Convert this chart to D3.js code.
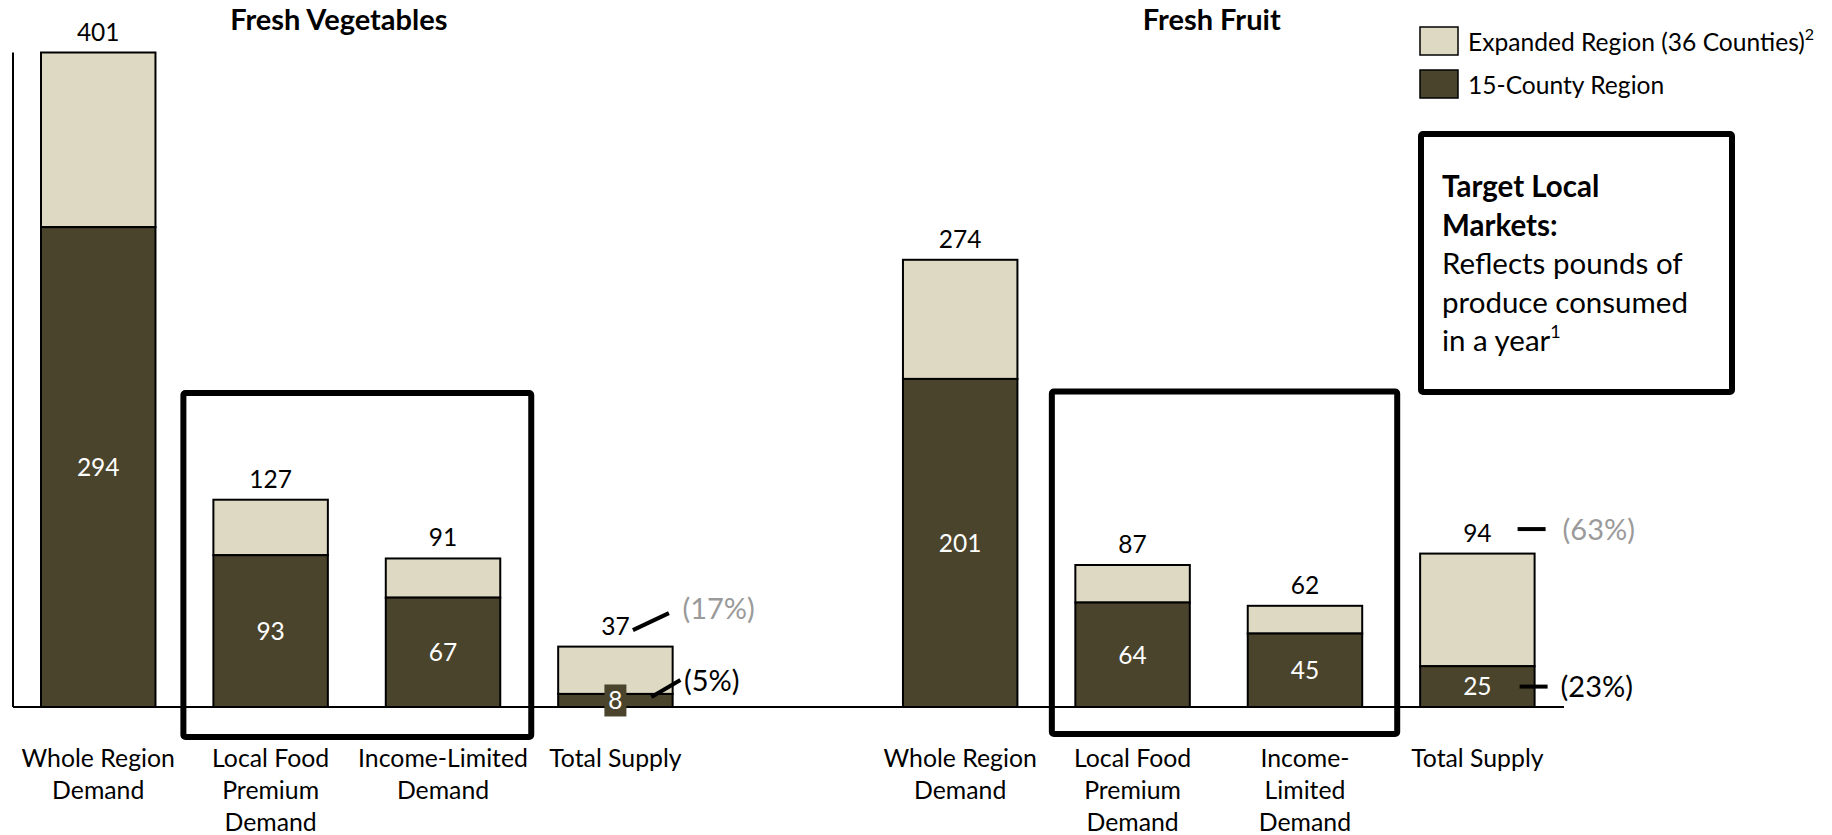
<!DOCTYPE html>
<html>
<head>
<meta charset="utf-8">
<script src="https://cdn.jsdelivr.net/npm/d3@7"></script>
<style>
  html, body { margin: 0; padding: 0; background: #fff; }
  svg { display: block; font-family: Lato, "Open Sans", sans-serif; }
</style>
</head>
<body>
<svg id="chart" width="1832" height="835"></svg>
<script>
// ---------------- data ----------------
const panels = ["Fresh Vegetables", "Fresh Fruit"];
const categories = ["Whole Region Demand", "Local Food Premium Demand", "Income-Limited Demand", "Total Supply"];
const vegLabels = [["Whole Region", "Demand"], ["Local Food", "Premium", "Demand"], ["Income-Limited", "Demand"], ["Total Supply"]];
const fruitLabels = [["Whole Region", "Demand"], ["Local Food", "Premium", "Demand"], ["Income-", "Limited", "Demand"], ["Total Supply"]];
const vegExpanded = [401, 127, 91, 37];   // Expanded Region (36 Counties) totals
const vegLocal = [294, 93, 67, 8];        // 15-County Region
const fruitExpanded = [274, 87, 62, 94];
const fruitLocal = [201, 64, 45, 25];
const vegSupplyPct = ["(17%)", "(5%)"];   // expanded share, 15-county share
const fruitSupplyPct = ["(63%)", "(23%)"];
const legendLabels = ["Expanded Region (36 Counties)", "15-County Region"];
const noteTitle = ["Target Local", "Markets:"];
const noteBody = ["Reflects pounds of", "produce consumed", "in a year"];

// ---------------- styles ----------------
const LIGHT = "#DED9C3";
const DARK = "#4A442C";
const GREY = "#9A9A9A";
const NUM_FS = 24.5, CAT_FS = 24.8, PCT_FS = 29, LEG_FS = 24.6, NOTE_FS = 29.5, TITLE_FS = 29;

const svg = d3.select("#chart");

// rows
const rows = [];
vegExpanded.forEach((v, i) => rows.push({ key: "veg-" + i, panel: 0, i, total: v, local: vegLocal[i], lines: vegLabels[i] }));
fruitExpanded.forEach((v, i) => rows.push({ key: "fruit-" + i, panel: 1, i, total: v, local: fruitLocal[i], lines: fruitLabels[i] }));

const slots = ["veg-0", "veg-1", "veg-2", "veg-3", "gap", "fruit-0", "fruit-1", "fruit-2", "fruit-3"];
const x = d3.scaleBand().domain(slots).range([41, 1534.6]).paddingInner(0.336).paddingOuter(0);
const bw = x.bandwidth();
const y = d3.scaleLinear().domain([0, d3.max(rows, d => d.total)]).range([707, 52.5]);

// axes lines
svg.append("line").attr("x1", 13).attr("x2", 13).attr("y1", y(d3.max(rows, d => d.total))).attr("y2", y(0))
  .attr("stroke", "#000").attr("stroke-width", 2);

// bars: expanded (light) then local (dark)
const g = svg.append("g");
g.selectAll("rect.exp").data(rows).join("rect").attr("class", "exp")
  .attr("x", d => x(d.key)).attr("width", bw)
  .attr("y", d => y(d.total)).attr("height", d => y(d.local) - y(d.total))
  .attr("fill", LIGHT).attr("stroke", "#000").attr("stroke-width", 2);
g.selectAll("rect.loc").data(rows).join("rect").attr("class", "loc")
  .attr("x", d => x(d.key)).attr("width", bw)
  .attr("y", d => y(d.local)).attr("height", d => y(0) - y(d.local))
  .attr("fill", DARK).attr("stroke", "#000").attr("stroke-width", 2);

// baseline
svg.append("line").attr("x1", 13).attr("x2", 1564).attr("y1", y(0)).attr("y2", y(0))
  .attr("stroke", "#000").attr("stroke-width", 2);

// total labels
svg.selectAll("text.tot").data(rows).join("text").attr("class", "tot")
  .attr("x", d => x(d.key) + bw / 2).attr("y", d => y(d.total) - 12)
  .attr("text-anchor", "middle").attr("font-size", NUM_FS).attr("fill", "#000")
  .text(d => d.total);

// local labels
rows.forEach(d => {
  const cx = x(d.key) + bw / 2;
  const cy = (y(d.local) + y(0)) / 2;
  if (y(0) - y(d.local) < 26) {
    svg.append("rect").attr("x", cx - 11).attr("y", cy - 16).attr("width", 22).attr("height", 32).attr("fill", DARK);
  }
  svg.append("text").attr("x", cx).attr("y", cy).attr("dy", "0.36em")
    .attr("text-anchor", "middle").attr("font-size", NUM_FS).attr("fill", "#fff").text(d.local);
});

// category labels
rows.forEach(d => {
  const t = svg.append("text").attr("text-anchor", "middle").attr("font-size", CAT_FS).attr("fill", "#000");
  d.lines.forEach((ln, k) => {
    t.append("tspan").attr("x", x(d.key) + bw / 2).attr("y", 767 + k * 32).text(ln);
  });
});

// panel titles
svg.append("text").attr("x", (x("veg-1") + x("veg-2") + bw) / 2 - 18).attr("y", 30)
  .attr("text-anchor", "middle").attr("font-size", TITLE_FS).attr("font-weight", "bold").text(panels[0]);
svg.append("text").attr("x", (x("fruit-1") + x("fruit-2") + bw) / 2 - 7).attr("y", 30)
  .attr("text-anchor", "middle").attr("font-size", TITLE_FS).attr("font-weight", "bold").text(panels[1]);

// target boxes
svg.append("rect").attr("x", x("veg-1") - 30).attr("y", 393).attr("width", x("veg-2") + bw + 31 - (x("veg-1") - 30)).attr("height", 344)
  .attr("fill", "none").attr("stroke", "#000").attr("stroke-width", 6).attr("rx", 2);
svg.append("rect").attr("x", x("fruit-1") - 23.5).attr("y", 391.5).attr("width", x("fruit-2") + bw + 35 - (x("fruit-1") - 23.5)).attr("height", 342.5)
  .attr("fill", "none").attr("stroke", "#000").attr("stroke-width", 6).attr("rx", 2);

// supply share annotations
(function () {
  const d = rows.find(r => r.key === "veg-3");
  const cx = x(d.key) + bw / 2, ty = y(d.total), ly = y(d.local);
  svg.append("line").attr("x1", cx + 17.5).attr("y1", ty - 16.5).attr("x2", cx + 53.5).attr("y2", ty - 33.5)
    .attr("stroke", "#000").attr("stroke-width", 4);
  svg.append("text").attr("x", cx + 67).attr("y", ty - 28).attr("font-size", PCT_FS).attr("fill", GREY).text(vegSupplyPct[0]);
  svg.append("line").attr("x1", cx + 36).attr("y1", ly + 3).attr("x2", cx + 65).attr("y2", ly - 14)
    .attr("stroke", "#000").attr("stroke-width", 4);
  svg.append("text").attr("x", cx + 68.5).attr("y", ly - 3).attr("font-size", PCT_FS).attr("fill", "#000").text(vegSupplyPct[1]);
})();
(function () {
  const d = rows.find(r => r.key === "fruit-3");
  const rx = x(d.key) + bw, ty = y(d.total), my = (y(d.local) + y(0)) / 2;
  svg.append("line").attr("x1", rx - 17).attr("y1", ty - 24.5).attr("x2", rx + 11).attr("y2", ty - 24.5)
    .attr("stroke", "#000").attr("stroke-width", 4);
  svg.append("text").attr("x", rx + 28).attr("y", ty - 24.5).attr("dy", "0.36em").attr("font-size", PCT_FS).attr("fill", GREY).text(fruitSupplyPct[0]);
  svg.append("line").attr("x1", rx - 15).attr("y1", my).attr("x2", rx + 13).attr("y2", my)
    .attr("stroke", "#000").attr("stroke-width", 4);
  svg.append("text").attr("x", rx + 26).attr("y", my).attr("dy", "0.36em").attr("font-size", PCT_FS).attr("fill", "#000").text(fruitSupplyPct[1]);
})();

// legend
const lg = svg.append("g");
[LIGHT, DARK].forEach((c, k) => {
  lg.append("rect").attr("x", 1420).attr("y", 27 + k * 43).attr("width", 38).attr("height", 28)
    .attr("fill", c).attr("stroke", "#000").attr("stroke-width", 1.5);
  const t = lg.append("text").attr("x", 1468).attr("y", 42 + k * 43).attr("dy", "0.36em").attr("font-size", LEG_FS).text(legendLabels[k]);
  if (k === 0) t.append("tspan").attr("font-size", 16).attr("dy", "-0.7em").text("2");
});

// note box
svg.append("rect").attr("x", 1421).attr("y", 134).attr("width", 311).attr("height", 258)
  .attr("fill", "none").attr("stroke", "#000").attr("stroke-width", 6).attr("rx", 2);
const nt = svg.append("text").attr("font-size", NOTE_FS);
noteTitle.forEach((ln, k) => nt.append("tspan").attr("x", 1442).attr("y", 197 + k * 38.5).attr("font-weight", "bold").text(ln));
noteBody.forEach((ln, k) => {
  nt.append("tspan").attr("x", 1442).attr("y", 274 + k * 38.5).text(ln);
  if (k === noteBody.length - 1) nt.append("tspan").attr("font-size", 18).attr("dy", "-0.75em").text("1");
});
</script>
</body>
</html>
